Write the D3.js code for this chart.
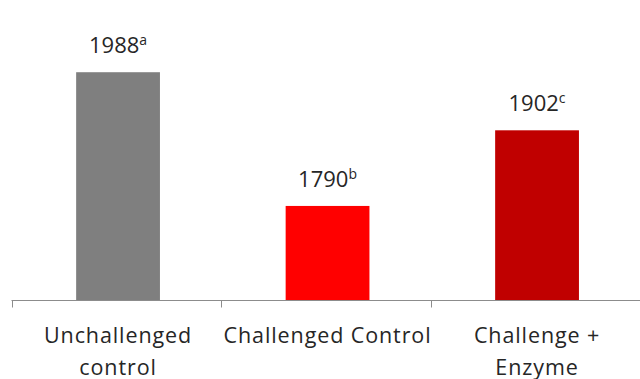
<!DOCTYPE html>
<html>
<head>
<meta charset="utf-8">
<script src="https://cdn.jsdelivr.net/npm/d3@7"></script>
<style>
  html, body { margin: 0; padding: 0; background: #fff; }
  svg { display: block; }
  text { font-family: "Open Sans", "Noto Sans", sans-serif; fill: #262626; }
</style>
</head>
<body>
<svg id="chart" width="640" height="379"></svg>
<script>
// Treatment groups and their values
const categories = ["Unchallenged control", "Challenged Control", "Challenge + Enzyme"];
const categoryLines = [["Unchallenged", "control"], ["Challenged Control"], ["Challenge +", "Enzyme"]];
const values = [1988, 1790, 1902];
const letters = ["a", "b", "c"];
const colors = ["#7f7f7f", "#ff0000", "#c00000"];

const width = 640, height = 379;
const baseY = 300.5;
const axisLeft = 11.5;

const svg = d3.select("#chart");

const x = d3.scaleBand()
  .domain(categories)
  .range([axisLeft + 1.8, 640 + 1.8])
  .paddingInner(0.6)
  .paddingOuter(0.3);

const y = d3.scaleLinear()
  .domain([1650, 2050])
  .range([baseY, baseY - 400 * 0.6754]);

// Bars
svg.selectAll("rect.bar")
  .data(categories)
  .join("rect")
  .attr("class", "bar")
  .attr("x", d => x(d))
  .attr("width", x.bandwidth())
  .attr("y", (d, i) => y(values[i]))
  .attr("height", (d, i) => baseY - y(values[i]))
  .attr("fill", (d, i) => colors[i]);

// Category axis with dividing ticks between groups
const step = x.step();
const boundaries = [0, 1, 2].map(i => axisLeft + i * step);
const axisG = svg.append("g");
axisG.append("line")
  .attr("x1", axisLeft).attr("x2", 640)
  .attr("y1", baseY).attr("y2", baseY)
  .attr("stroke", "#8c8c8c").attr("stroke-width", 1);
axisG.selectAll("line.tick")
  .data(boundaries)
  .join("line")
  .attr("class", "tick")
  .attr("x1", d => Math.round(d) + 0.5).attr("x2", d => Math.round(d) + 0.5)
  .attr("y1", baseY).attr("y2", baseY + 7)
  .attr("stroke", "#8c8c8c").attr("stroke-width", 1);

// Category labels
const labelG = svg.append("g");
categories.forEach((c, i) => {
  const cx = x(c) + x.bandwidth() / 2;
  const t = labelG.append("text")
    .attr("text-anchor", "middle")
    .attr("font-size", 21.5)
    .attr("letter-spacing", 0.9);
  categoryLines[i].forEach((ln, j) => {
    t.append("tspan")
      .attr("x", cx)
      .attr("y", 343 + j * 32)
      .text(ln);
  });
});

// Value labels with significance letters
categories.forEach((c, i) => {
  const cx = x(c) + x.bandwidth() / 2;
  const t = svg.append("text")
    .attr("text-anchor", "middle")
    .attr("x", cx)
    .attr("y", y(values[i]) - 19)
    .attr("font-size", 22);
  t.append("tspan").text(values[i]);
  t.append("tspan")
    .attr("font-size", 14)
    .attr("dy", -8)
    .text(letters[i]);
});
</script>
</body>
</html>
